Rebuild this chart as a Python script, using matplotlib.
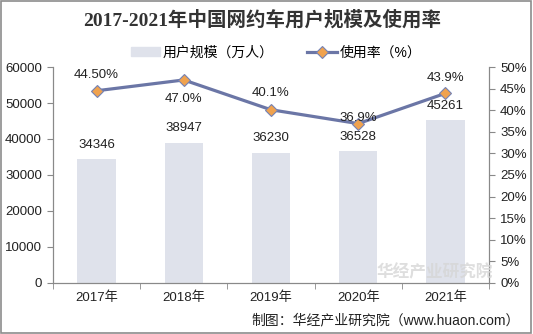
import matplotlib
matplotlib.use("Agg")
import matplotlib.pyplot as plt
from matplotlib.patches import Rectangle
from matplotlib.lines import Line2D

plt.rcParams['font.family'] = ['Liberation Sans', 'Noto Sans CJK SC', 'DejaVu Sans']

years = ["2017年", "2018年", "2019年", "2020年", "2021年"]
users = [34346, 38947, 36230, 36528, 45261]
usage = [44.5, 47.0, 40.1, 36.9, 43.9]
usage_labels = ["44.50%", "47.0%", "40.1%", "36.9%", "43.9%"]
bar_name = "用户规模（万人）"
line_name = "使用率（%）"
title = "2017-2021年中国网约车用户规模及使用率"
source = "制图：华经产业研究院（www.huaon.com）"

# style-only offsets for percent labels (points)
pct_offsets = [(0, 11), (0, -14), (0, 12), (0, 4), (0, 11)]

fig = plt.figure(figsize=(5.33, 3.34), dpi=100)
ax = fig.add_axes([0.0994, 0.1527, 0.9175 - 0.0994, 0.7994 - 0.1527])
ax2 = ax.twinx()

x = list(range(len(years)))
bar_color = "#dfe2eb"
line_color = "#6b76a6"
grey = "#898989"

# watermark
fig.text(0.815, 0.185, "华经产业研究院", fontsize=12, color='#d6d6d6', ha='center', va='center',
         fontweight='bold', alpha=0.8, zorder=0)

bars = ax.bar(x, users, width=0.44, color=bar_color, zorder=1)
ax.set_ylim(0, 60000)
ax.set_xlim(-0.5, len(years) - 0.5)
ax.set_yticks(range(0, 60001, 10000))
ax.set_xticks(x)
ax.set_xticklabels(years, fontsize=9.5)
ax.set_xticks([i - 0.5 for i in range(len(years) + 1)], minor=True)
ax.tick_params(axis='x', which='major', length=0, pad=6, colors='#222222')
ax.tick_params(axis='x', which='minor', length=4, color=grey)
ax.tick_params(axis='y', length=4, color=grey, labelsize=9.5, labelcolor='#222222', pad=4)
ax.patch.set_alpha(0)
for v, xi in zip(users, x):
    ax.annotate(str(v), (xi, v), xytext=(0, 6), textcoords='offset points',
                ha='center', va='bottom', fontsize=9.5, color='#222222')

ax2.plot(x, usage, color=line_color, lw=2.3, marker='D', ms=6,
         mfc='#f0a24e', mec='#7482b5', mew=0.8, zorder=3)
ax2.set_ylim(0, 50)
ax2.set_yticks(range(0, 51, 5))
ax2.set_yticklabels([f"{t}%" for t in range(0, 51, 5)])
ax2.tick_params(axis='y', length=4, color=grey, labelsize=9.5, labelcolor='#222222', pad=4)
for xi, v, lab, off in zip(x, usage, usage_labels, pct_offsets):
    ax2.annotate(lab, (xi, v), xytext=off, textcoords='offset points',
                 ha='center', va='center', fontsize=9.5, color='#222222')

for a in (ax, ax2):
    a.spines['top'].set_visible(False)
    for s in ('left', 'right', 'bottom'):
        a.spines[s].set_color(grey)
        a.spines[s].set_linewidth(0.8)

fig.text(0.492, 0.94, title, ha='center', va='center', fontsize=14, fontweight='bold',
         family=['Liberation Serif', 'Noto Sans CJK SC'], color='#333333')

handles = [Rectangle((0, 0), 1, 1, color=bar_color),
           Line2D([0], [0], color=line_color, lw=2.3, marker='D', ms=6,
                  mfc='#f0a24e', mec='#7482b5', mew=0.8)]
fig.legend(handles, [bar_name, line_name], loc='center', bbox_to_anchor=(0.518, 0.843),
           ncol=2, frameon=False, fontsize=10, handlelength=2.1, columnspacing=2.4,
           handletextpad=0.2)

fig.text(0.975, 0.04, source, ha='right', va='center', fontsize=10, color='#222222')

fig.patches.append(Rectangle((0.002, 0.003), 0.995, 0.994, transform=fig.transFigure,
                             fill=False, edgecolor='#8c8c8c', lw=1.2))

fig.savefig("out.png", dpi=100)
